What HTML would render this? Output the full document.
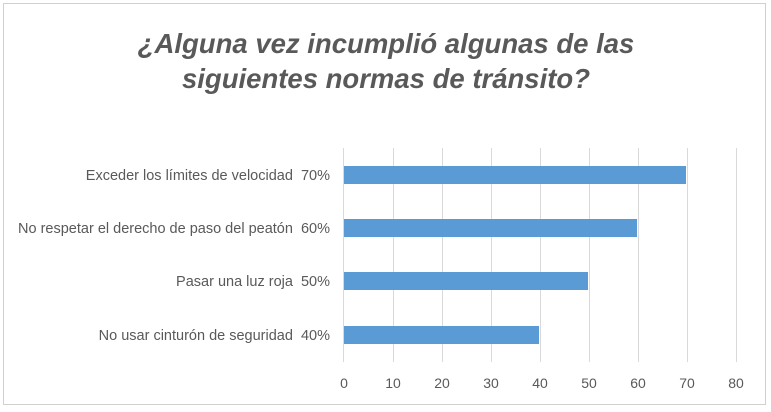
<!DOCTYPE html>
<html><head><meta charset="utf-8"><style>
body{margin:0;background:#fff;}
svg{display:block;font-family:"Liberation Sans",sans-serif;}
</style></head><body>
<svg width="771" height="412" viewBox="0 0 771 412">
<rect x="3.5" y="3.5" width="762" height="401" fill="#fff" stroke="#d0d0d0"/>
<text x="386" y="53" text-anchor="middle" font-size="27.5" font-style="italic" font-weight="bold" fill="#595959">¿Alguna vez incumplió algunas de las</text>
<text x="386" y="88" text-anchor="middle" font-size="27.5" font-style="italic" font-weight="bold" fill="#595959">siguientes normas de tránsito?</text>
<g stroke="#d9d9d9" stroke-width="1">
<line x1="393.5" y1="148" x2="393.5" y2="362"/><line x1="442.5" y1="148" x2="442.5" y2="362"/>
<line x1="491.5" y1="148" x2="491.5" y2="362"/><line x1="540.5" y1="148" x2="540.5" y2="362"/>
<line x1="589.5" y1="148" x2="589.5" y2="362"/><line x1="638.5" y1="148" x2="638.5" y2="362"/>
<line x1="687.5" y1="148" x2="687.5" y2="362"/><line x1="736.5" y1="148" x2="736.5" y2="362"/>
<line x1="343.5" y1="148" x2="343.5" y2="362"/>
</g>
<g fill="#5b9bd5">
<rect x="344" y="166" width="342" height="18"/>
<rect x="344" y="219" width="293" height="18"/>
<rect x="344" y="272" width="244" height="18"/>
<rect x="344" y="326" width="195" height="18"/>
</g>
<g font-size="14.5" fill="#595959" text-anchor="end">
<text x="330" y="180">Exceder los límites de velocidad&#160;&#160;70%</text>
<text x="330" y="233">No respetar el derecho de paso del peatón&#160;&#160;60%</text>
<text x="330" y="286">Pasar una luz roja&#160;&#160;50%</text>
<text x="330" y="340">No usar cinturón de seguridad&#160;&#160;40%</text>
</g>
<g font-size="14" fill="#595959" text-anchor="middle">
<text x="344" y="388">0</text><text x="393" y="388">10</text><text x="442" y="388">20</text>
<text x="491" y="388">30</text><text x="540" y="388">40</text><text x="589" y="388">50</text>
<text x="638" y="388">60</text><text x="687" y="388">70</text><text x="736" y="388">80</text>
</g>
</svg>
</body></html>
